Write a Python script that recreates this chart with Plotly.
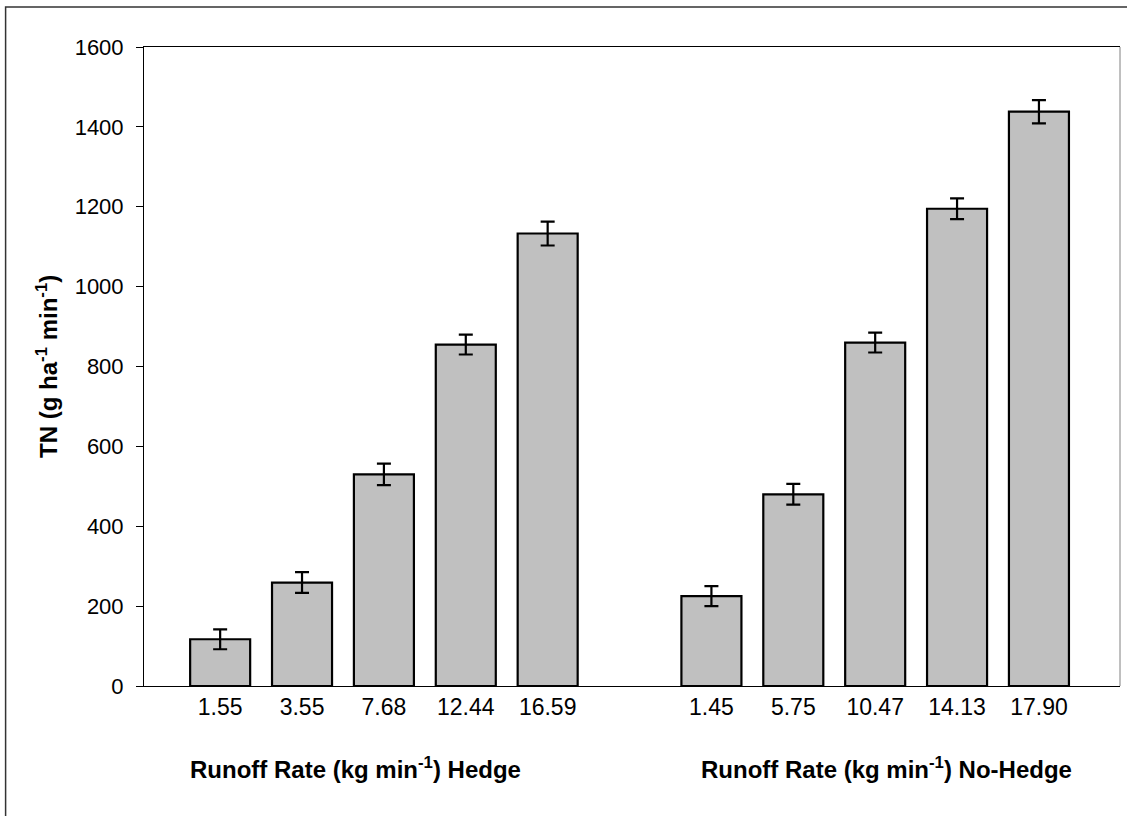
import plotly.graph_objects as go

# ---- data ----
hedge_rates = ["1.55", "3.55", "7.68", "12.44", "16.59"]
hedge_tn = [117, 259, 530, 855, 1133]
hedge_err = [25, 26, 27, 25, 30]

nohedge_rates = ["1.45", "5.75", "10.47", "14.13", "17.90"]
nohedge_tn = [225, 480, 860, 1195, 1438]
nohedge_err = [25, 26, 25, 26, 29]

spacer = " "
categories = hedge_rates + [spacer] + nohedge_rates

y_ticks = [0, 200, 400, 600, 800, 1000, 1200, 1400, 1600]

FONT = "Arial, 'Liberation Sans', sans-serif"

fig = go.Figure()
fig.add_trace(go.Bar(
    x=hedge_rates + nohedge_rates,
    y=hedge_tn + nohedge_tn,
    marker=dict(color="#C0C0C0", line=dict(color="black", width=2.2)),
    error_y=dict(type="data", array=hedge_err + nohedge_err, visible=True,
                 color="black", thickness=2.2, width=7),
    showlegend=False,
    hoverinfo="skip",
))

fig.update_layout(
    width=1127, height=816,
    margin=dict(l=143.5, r=6.5, t=47, b=130),
    paper_bgcolor="white", plot_bgcolor="white",
    font=dict(family=FONT, size=22, color="black"),
    bargap=0.267,
    xaxis=dict(
        type="category", categoryorder="array", categoryarray=categories,
        range=[-0.93, 10.99],
        showline=True, linecolor="black", linewidth=1, mirror=True,
        ticks="", showgrid=False, zeroline=False,
        tickfont=dict(size=23, family=FONT),
    ),
    yaxis=dict(
        range=[0, 1600], tickvals=y_ticks,
        showline=True, linecolor="black", linewidth=1,
        ticks="outside", ticklen=7, tickcolor="black",
        ticklabelstandoff=8,
        showgrid=False, zeroline=False,
        tickfont=dict(size=22, family=FONT),
    ),
    shapes=[
        dict(type="line", xref="paper", yref="paper", x0=1, x1=1, y0=0, y1=1,
             line=dict(color="#808080", width=1)),
        dict(type="rect", xref="paper", yref="paper",
             x0=-0.1418, x1=1.2, y0=-0.5, y1=1.0626,
             line=dict(color="#333333", width=1.5), layer="above"),
    ],
    annotations=[
        dict(text="<b>TN (g ha<sup>-1</sup> min<sup>-1</sup>)</b>", textangle=-90,
             xref="paper", yref="paper", x=-0.1, y=0.5,
             showarrow=False, font=dict(size=24, family=FONT),
             xanchor="center", yanchor="middle"),
        dict(text="<b>Runoff Rate (kg min<sup>-1</sup>) Hedge</b>",
             xref="paper", yref="paper", x=0.2165, y=-0.128,
             showarrow=False, font=dict(size=24, family=FONT),
             xanchor="center", yanchor="middle"),
        dict(text="<b>Runoff Rate (kg min<sup>-1</sup>) No-Hedge</b>",
             xref="paper", yref="paper", x=0.761, y=-0.128,
             showarrow=False, font=dict(size=24, family=FONT),
             xanchor="center", yanchor="middle"),
    ],
)

fig.write_html("out.html", config={"displayModeBar": False},
               post_script="document.body.style.margin='0';document.body.style.overflow='hidden';")
